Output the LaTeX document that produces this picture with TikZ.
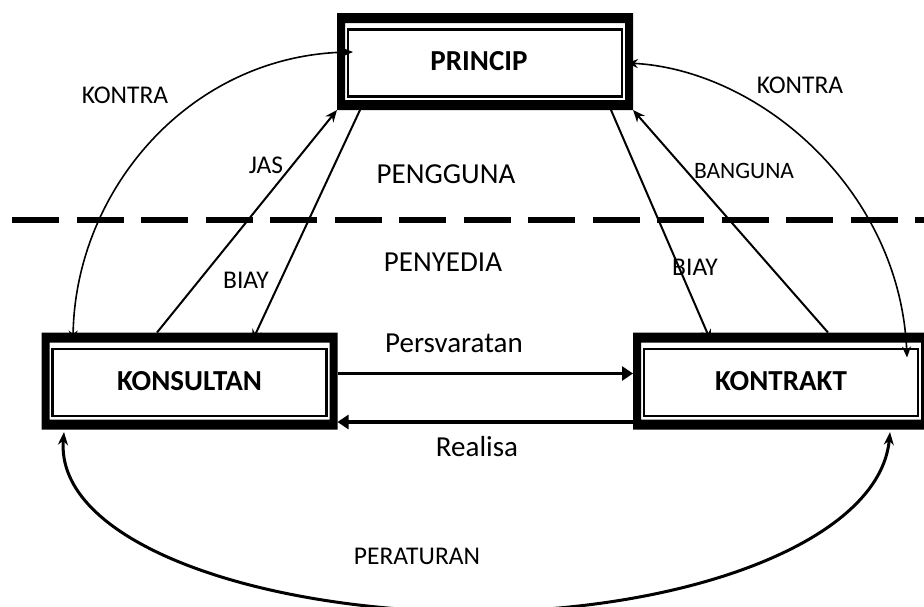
\documentclass[tikz,border=0pt]{standalone}
\usepackage{fontspec}
\setmainfont{Carlito}
\usetikzlibrary{arrows.meta,calc}
\begin{document}
\begin{tikzpicture}[x=1pt,y=-1pt,
 boxnode/.style={minimum width=296pt, minimum height=97pt, inner sep=0pt, outer sep=0pt, font=\fontsize{29}{34}\selectfont\bfseries},
 lbl/.style={anchor=base, inner sep=0pt, font=\fontsize{25.5}{30}\selectfont},
 biglbl/.style={anchor=base, inner sep=0pt, font=\fontsize{29}{34}\selectfont},
 thinarrow/.style={line width=1.6pt, {Stealth[length=11pt,width=9pt]}-{Stealth[length=11pt,width=9pt]}},
 diag/.style={line width=2pt, -{Stealth[length=12pt,width=10pt]}},
 flow/.style={line width=3.5pt, -{Triangle[length=11pt,width=14pt]}},
 rulearrow/.style={line width=3pt, {Stealth[length=13pt,width=10pt]}-{Stealth[length=13pt,width=10pt]}},
]
\useasboundingbox (0,0) rectangle (924,606);
\clip (0,0) rectangle (924,606);
\fill[white] (0,0) rectangle (924,606);

\node[boxnode] (princip) at (485,61.5) {PRINCIP\hspace*{12pt}};
\node[boxnode] (konsultan) at (189.5,381) {KONSULTAN};
\node[boxnode] (kontrakt) at (781,381) {KONTRAKT};

\foreach \n in {princip,konsultan,kontrakt}{
 \fill[even odd rule] (\n.north west) rectangle (\n.south east)
   ([shift={(8,10)}]\n.north west) rectangle ([shift={(-8,-10)}]\n.south east);
 \draw[line width=2.6pt] ([shift={(11,16.5)}]\n.north west) rectangle ([shift={(-11,-13.5)}]\n.south east);
}

\draw[line width=6pt, dash pattern=on 47pt off 17.5pt] (12,220) -- (940,220);

\draw[thinarrow] ([shift={(16,39)}]princip.north west) .. controls (190,55) and (75,190) .. ([shift={(31.5,9)}]konsultan.north west);
\draw[thinarrow] ([shift={(-6,50)}]princip.north east) .. controls (760,70) and (900,190) .. ([shift={(-22,25)}]kontrakt.north east);

\draw[diag] ([shift={(115.5,0)}]konsultan.north west) -- (princip.south west);
\draw[diag] ([shift={(23,0)}]princip.south west) -- ([shift={(210.5,9)}]konsultan.north west);
\draw[diag] ([shift={(-22,0)}]princip.south east) -- ([shift={(78,9)}]kontrakt.north west);
\draw[diag] ([shift={(195,0)}]kontrakt.north west) -- (princip.south east);

\draw[flow] ([shift={(0,41)}]konsultan.north east) -- ([shift={(0,41)}]kontrakt.north west);
\draw[flow] ([shift={(0,-7.5)}]kontrakt.south west) -- ([shift={(0,-7.5)}]konsultan.south east);

\coordinate (pbot) at (470,612);
\draw[rulearrow] ([shift={(22.5,2.5)}]konsultan.south west) .. controls (55,540) and (250,610) .. (pbot) .. controls (690,612) and (880,540) .. ([shift={(-39,2.5)}]kontrakt.south east);

\node[lbl] (kontraL) at (125,103) {KONTRA};
\node[lbl] (jas) at (266,173) {JAS};
\node[lbl] (biayL) at (246,288) {BIAY};
\node[lbl] (kontraR) at (800,93) {KONTRA};
\node[lbl, font=\fontsize{23.5}{28}\selectfont] (banguna) at (744,178) {BANGUNA};
\node[lbl] (biayR) at (695,275) {BIAY};
\node[biglbl] (pengguna) at (446,183) {PENGGUNA};
\node[biglbl] (penyedia) at (443,271) {PENYEDIA};
\node[biglbl] (persv) at (454,352) {Persvaratan};
\node[biglbl] (realisa) at (477,456) {Realisa};
\node[lbl] (peraturan) at (417,564) {PERATURAN};
\end{tikzpicture}
\end{document}
